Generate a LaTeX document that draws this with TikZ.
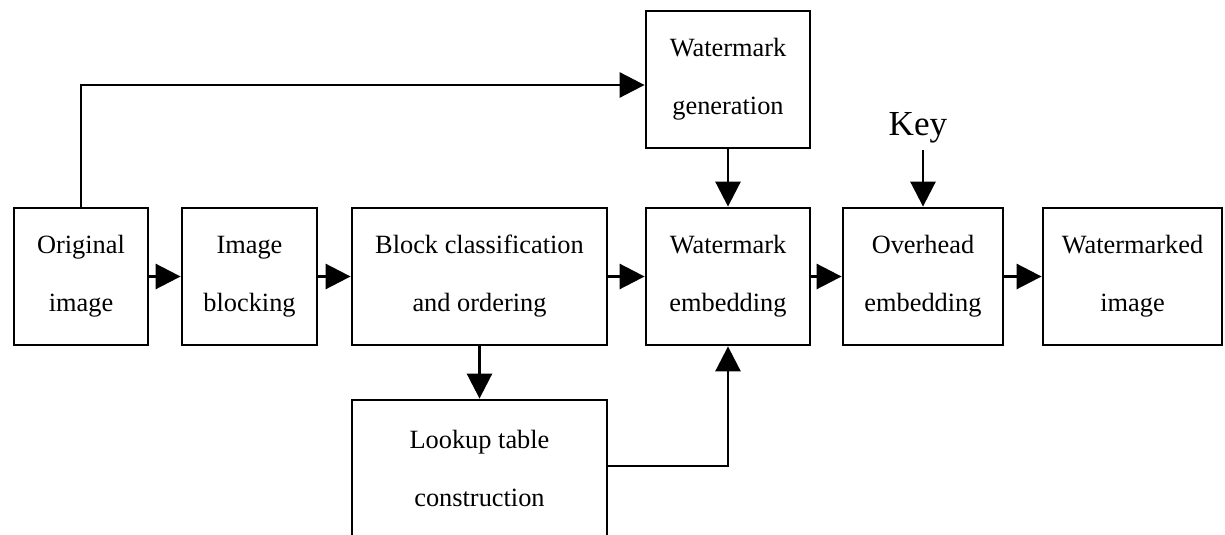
\documentclass[tikz,border=0pt]{standalone}
\usepackage{fontspec}
\setmainfont{Liberation Serif}
\usetikzlibrary{arrows.meta}

\begin{document}
\begin{tikzpicture}[
	x=0.2mm, y=-0.2mm,
	font=\fontsize{15}{33}\selectfont,
	box/.style={
		draw=black,
		line width=1.6pt,
		minimum height=27.4mm,
		inner sep=0pt,
		align=center
	},
	arr/.style={draw, line width=1.6pt, -{Triangle[length=5mm,width=5mm]}},
	link/.style={draw, line width=1.6pt}
	]
	\useasboundingbox (0,0) rectangle (1225,535);
	\clip (0,0) rectangle (1225,535);
	
	% main row
	\node[box, minimum width=26.8mm] (orig) at (81,276.5) {Original\\image};
	\node[box, minimum width=27mm] (blocking) at (249.5,276.5) {Image\\blocking};
	\node[box, minimum width=51mm] (classif) at (479.5,276.5) {Block classification\\and ordering};
	\node[box, minimum width=32.8mm] (embed) at (728,276.5) {Watermark\\embedding};
	\node[box, minimum width=32mm] (overhead) at (923,276.5) {Overhead\\embedding};
	\node[box, minimum width=35.8mm] (marked) at (1132.5,276.5) {Watermarked\\image};
	
	% upper and lower boxes
	\node[box, minimum width=32.8mm] (gen) at (728,79.5) {Watermark\\generation};
	\node[box, minimum width=51mm] (lookup) at (479.5,468.5) {Lookup table\\construction};
	\node[font=\fontsize{20}{24}\selectfont, inner sep=1pt] (key) at (918,128) {Key};
	
	\draw[arr] (orig) -- (blocking);
	\draw[arr] (blocking) -- (classif);
	\draw[arr] (classif) -- (embed);
	\draw[arr] (embed) -- (overhead);
	\draw[arr] (overhead) -- (marked);
	
	\draw[arr] (orig.north) |- ([yshift=-1.1mm]gen.west);
	\draw[arr] (gen.south) -- (embed.north);
	\draw[arr] ([yshift=-1mm]key.south -| overhead.north) -- (overhead.north);
	\draw[arr] (classif.south) -- (lookup.north);
	\draw[arr] ([yshift=0.5mm]lookup.east) -| (embed.south);
\end{tikzpicture}
\end{document}
